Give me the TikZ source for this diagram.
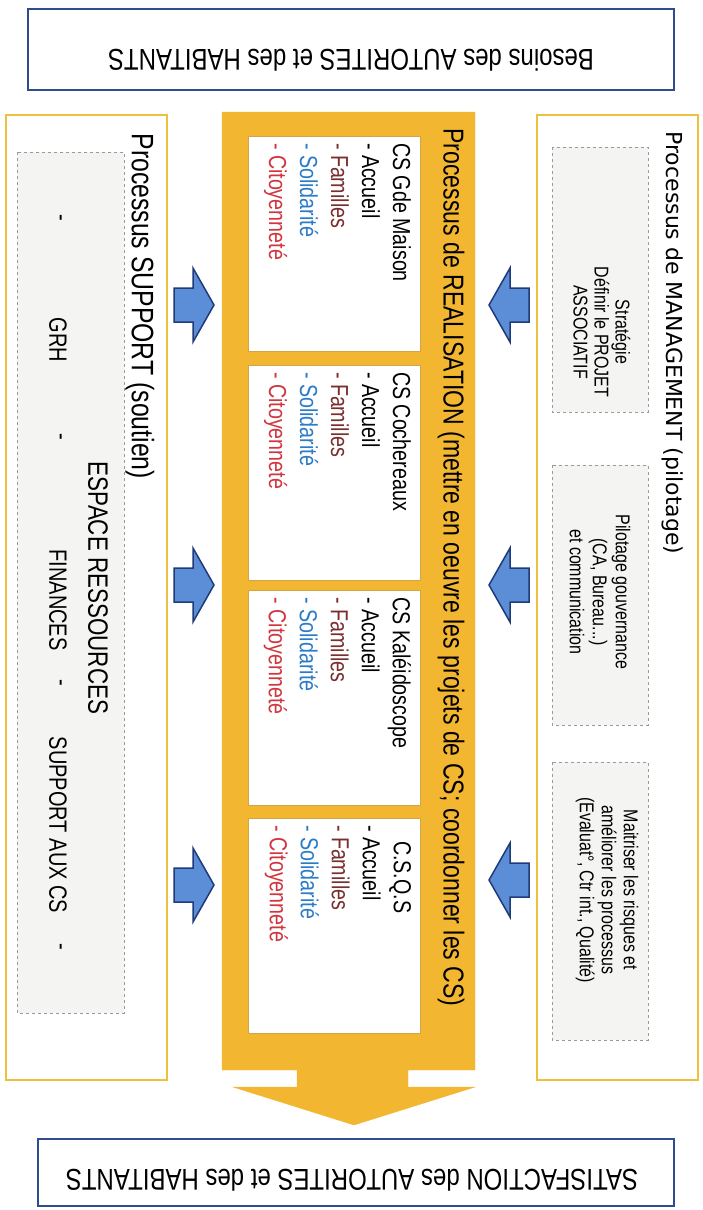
\documentclass[tikz,border=0pt]{standalone}
\usepackage{fontspec}
\setmainfont{Liberation Sans}[FakeStretch=0.8]
\newfontfamily\widefont{DejaVu Sans}
\usetikzlibrary{calc}
\definecolor{bl}{HTML}{2F4C8F}
\definecolor{ye}{HTML}{F2B630}
\definecolor{yl}{HTML}{EDC13F}
\definecolor{gy}{HTML}{F4F4F2}
\definecolor{gd}{HTML}{9A9A9A}
\definecolor{ar}{HTML}{5B8ED6}
\definecolor{ad}{HTML}{1F3B7A}
\definecolor{fa}{HTML}{7A2E2E}
\definecolor{so}{HTML}{2A7CC7}
\definecolor{ci}{HTML}{D2353E}

\tikzset{
  endbox/.style={draw=bl, line width=2pt, fill=white},
  sidebox/.style={draw=yl, line width=2.5pt, fill=white},
  greybox/.style={draw=gd, dashed, line width=0.6pt, fill=gy},
  csbox/.style={fill=white, draw=ye!70!gray, line width=0.4pt, rotate=-90, minimum width=215pt, minimum height=172pt},
  cstext/.style={rotate=-90, anchor=north west, inner xsep=7pt, inner ysep=9pt, align=left, font=\fontsize{24.6}{31}\selectfont},
  mgtext/.style={rotate=-90, align=center, font=\fontsize{20}{22}\selectfont},
  sptext/.style={rotate=-90, font=\fontsize{25}{30}\selectfont},
  barrow/.style={fill=ar, draw=ad, line width=1.5pt, line join=miter},
}

\begin{document}
\begin{tikzpicture}[x=1pt, y=-1pt]
  \useasboundingbox (0,0) rectangle (702,1210);

  \draw[endbox] (28,9) rectangle (674,90);
  \node[rotate=180, font=\fontsize{30}{34}\selectfont] (needs) at (351,60) {Besoins des AUTORITES et des HABITANTS};

  \draw[sidebox] (6,115) rectangle (167,1080);
  \draw[sidebox] (537,115) rectangle (698,1080);

  \filldraw[fill=ye, draw=ye] (222,112) -- (475,112) -- (475,1070) -- (408,1070) -- (408,1087) -- (475,1087) -- (354,1125) -- (233,1087) -- (297,1087) -- (297,1070) -- (222,1070) -- cycle;

  \node[rotate=-90, anchor=west, font=\fontsize{28.8}{32}\selectfont] (real) at (451,125) {Processus de REALISATION (mettre en oeuvre les projets de CS; coordonner les CS)};

  \node[csbox] (cs1) at (334,243.5) {};
  \node[csbox] (cs2) at (334,472.5) {};
  \node[csbox] (cs3) at (334,698) {};
  \node[csbox] (cs4) at (334,925.5) {};
  \node[cstext] (cst1) at (cs1.north west) {CS Gde Maison\\- Accueil\\\textcolor{fa}{- Familles}\\\textcolor{so}{- Solidarité}\\\textcolor{ci}{- Citoyenneté}};
  \node[cstext] (cst2) at (cs2.north west) {CS Cochereaux\\- Accueil\\\textcolor{fa}{- Familles}\\\textcolor{so}{- Solidarité}\\\textcolor{ci}{- Citoyenneté}};
  \node[cstext] (cst3) at (cs3.north west) {CS Kaléidoscope\\- Accueil\\\textcolor{fa}{- Familles}\\\textcolor{so}{- Solidarité}\\\textcolor{ci}{- Citoyenneté}};
  \node[cstext] (cst4) at (cs4.north west) {\hspace*{16pt}C.S.Q.S\\- Accueil\\\textcolor{fa}{- Familles}\\\textcolor{so}{- Solidarité}\\\textcolor{ci}{- Citoyenneté}};

  \node[rotate=-90, anchor=west, font=\widefont\fontsize{22}{26}\selectfont] (mgmt) at (673,128) {Processus de MANAGEMENT (pilotage)};
  \draw[greybox] (552,147) rectangle (648,412);
  \draw[greybox] (552,465) rectangle (648,725);
  \draw[greybox] (552,762) rectangle (648,1040);
  \node[mgtext, font=\fontsize{20}{21}\selectfont] (strat) at (602,332) {Stratégie\\Définir le PROJET\\ASSOCIATIF};
  \node[mgtext, font=\fontsize{20}{23}\selectfont] (pilot) at (600,592) {Pilotage gouvernance\\(CA, Bureau...)\\et communication};
  \node[mgtext] (risk) at (607,890) {Maitriser les risques et\\améliorer les processus\\(Evaluat°, Ctr int., Qualité)};

  \node[rotate=-90, anchor=west, font=\fontsize{31}{34}\selectfont] (supp) at (140,130) {Processus SUPPORT (soutien)};
  \draw[greybox] (17,152) rectangle (124,1013);
  \node[sptext, font=\fontsize{28}{30}\selectfont] (esp) at (98,588) {ESPACE RESSOURCES};
  \node[sptext] (d1) at (58,218) {-};
  \node[sptext] (grh) at (58,340) {GRH};
  \node[sptext] (d2) at (58,437) {-};
  \node[sptext] (fin) at (58,600) {FINANCES};
  \node[sptext] (d3) at (58,683) {-};
  \node[sptext] (sup) at (58,825) {SUPPORT AUX CS};
  \node[sptext] (d4) at (58,947) {-};

  \coordinate (la1) at (194,305);
  \coordinate (la2) at (194,585);
  \coordinate (la3) at (194,885);
  \filldraw[barrow] ($(la1)+(-20,-17)$) -- ++(19,0) -- ++(0,-20) -- ++(21,37) -- ++(-21,37) -- ++(0,-20) -- ++(-19,0) -- cycle;
  \filldraw[barrow] ($(la2)+(-20,-17)$) -- ++(19,0) -- ++(0,-20) -- ++(21,37) -- ++(-21,37) -- ++(0,-20) -- ++(-19,0) -- cycle;
  \filldraw[barrow] ($(la3)+(-20,-17)$) -- ++(19,0) -- ++(0,-20) -- ++(21,37) -- ++(-21,37) -- ++(0,-20) -- ++(-19,0) -- cycle;

  \coordinate (ra1) at (509,305);
  \coordinate (ra2) at (509,585);
  \coordinate (ra3) at (509,880);
  \filldraw[barrow] ($(ra1)+(20,-17)$) -- ++(-19,0) -- ++(0,-20) -- ++(-21,37) -- ++(21,37) -- ++(0,-20) -- ++(19,0) -- cycle;
  \filldraw[barrow] ($(ra2)+(20,-17)$) -- ++(-19,0) -- ++(0,-20) -- ++(-21,37) -- ++(21,37) -- ++(0,-20) -- ++(19,0) -- cycle;
  \filldraw[barrow] ($(ra3)+(20,-17)$) -- ++(-19,0) -- ++(0,-20) -- ++(-21,37) -- ++(21,37) -- ++(0,-20) -- ++(19,0) -- cycle;

  \draw[endbox] (38,1139) rectangle (674,1206);
  \node[rotate=180, font=\fontsize{30}{34}\selectfont] (satis) at (352,1180) {SATISFACTION des AUTORITES et des HABITANTS};
\end{tikzpicture}
\end{document}
